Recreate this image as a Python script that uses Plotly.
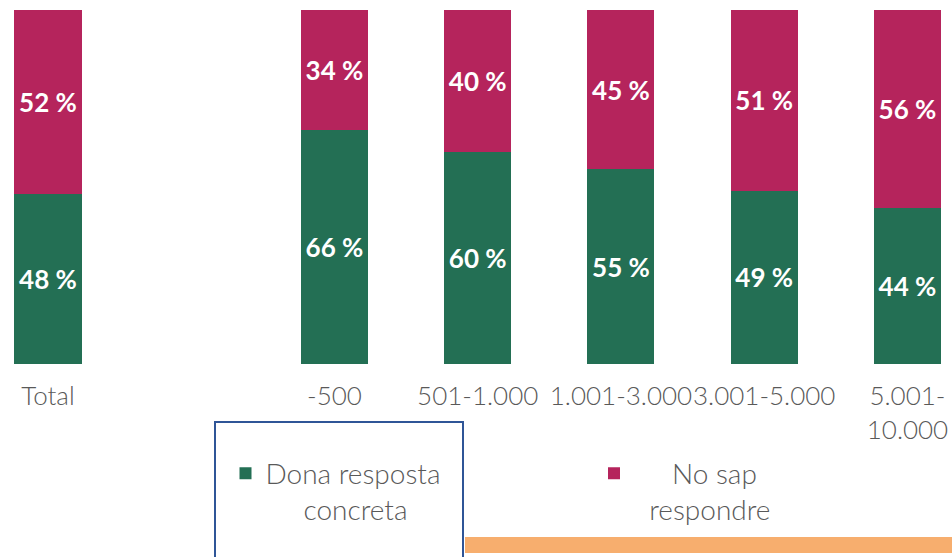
import plotly.graph_objects as go

# categories (the blank one is the empty slot between Total and -500)
categories = ["Total", " ", "-500", "501-1.000", "1.001-3.000", "3.001-5.000", "5.001-<br>10.000"]
concreta = [48, None, 66, 60, 55, 49, 44]
no_sap = [52, None, 34, 40, 45, 51, 56]

GREEN = "#236F54"
MAGENTA = "#B5245C"
GREY = "#595959"
FONT = "Lato"
NB = "\u00a0"
W, H = 952, 557

fig = go.Figure()
fig.add_trace(go.Bar(
    x=categories, y=concreta, name="Dona resposta<br>" + NB * 5 + "concreta",
    marker=dict(color=GREEN, line=dict(width=0)),
    texttemplate="%{y} %", textposition="inside", insidetextanchor="middle",
    textfont=dict(family=FONT, size=26, color="white", weight="bold"),
    textangle=0, legend="legend",
))
fig.add_trace(go.Bar(
    x=categories, y=no_sap, name=NB * 5 + "No sap<br>" + NB * 2 + "respondre",
    marker=dict(color=MAGENTA, line=dict(width=0)),
    texttemplate="%{y} %", textposition="inside", insidetextanchor="middle",
    textfont=dict(family=FONT, size=26, color="white", weight="bold"),
    textangle=0, legend="legend2",
))

legend_style = dict(
    orientation="h", xanchor="left", yanchor="top", valign="top",
    font=dict(family=FONT, size=28, color=GREY, weight=300),
    bgcolor="rgba(0,0,0,0)", itemclick=False,
)

fig.update_layout(
    width=W, height=H,
    margin=dict(l=0, r=0, t=10, b=193),
    barmode="stack", bargap=0.532,
    plot_bgcolor="white", paper_bgcolor="white",
    showlegend=True,
    legend=dict(x=225.5 / W, y=-0.2385, **legend_style),
    legend2=dict(x=594 / W, y=-0.2385, **legend_style),
    xaxis=dict(
        type="category", categoryorder="array", categoryarray=categories,
        range=[-0.335, 6.311], showgrid=False, showline=False, ticks="",
        tickangle=0, ticklabelstandoff=14,
        tickfont=dict(family=FONT, size=26, color=GREY, weight=300),
    ),
    yaxis=dict(range=[0, 100], visible=False),
    shapes=[
        dict(type="rect", xref="paper", yref="paper",
             x0=215 / W, x1=463 / W, y0=-0.62, y1=-0.1638,
             line=dict(color="#2F5597", width=2), fillcolor="rgba(0,0,0,0)"),
        dict(type="rect", xref="paper", yref="paper",
             x0=465 / W, x1=1.02, y0=-0.534, y1=-0.4887,
             line=dict(width=0), fillcolor="#F7AE6E"),
    ],
)

# drop the default 8px body margin so the figure fills the window exactly
fig.write_html(
    "out.html",
    config={"displayModeBar": False},
    post_script="document.body.style.margin='0';document.body.style.overflow='hidden';",
)
